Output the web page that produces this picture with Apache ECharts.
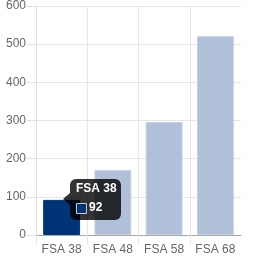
<!DOCTYPE html>
<html><head><meta charset="utf-8">
<script src="https://cdn.jsdelivr.net/npm/echarts@6/dist/echarts.min.js"></script>
<style>html,body{margin:0;padding:0;background:#fff}#c{width:263px;height:263px}</style>
</head><body><div id="c"></div>
<script>
var categories = ["FSA 38", "FSA 48", "FSA 58", "FSA 68"];
var values = [92, 170, 296, 521];
var yTicks = [0, 100, 200, 300, 400, 500, 600];
var highlightIndex = 0;

var chart = echarts.init(document.getElementById('c'), null, {renderer: 'canvas'});
var font = '"Liberation Sans", Arial, sans-serif';
chart.setOption({
  animation: false,
  grid: {left: 36, right: 22, top: 6, bottom: 28, containLabel: false},
  xAxis: {
    type: 'category', data: categories,
    axisLine: {lineStyle: {color: '#a8a8a8'}},
    axisTick: {show: true, interval: 0, length: 10, lineStyle: {color: '#e6e6e6'}},
    axisLabel: {color: '#666', fontFamily: font, fontSize: 12, margin: 9, interval: 0},
    splitLine: {show: true, interval: 0, showMaxLine: false, lineStyle: {color: '#e6e6e6'}}
  },
  yAxis: {
    type: 'value', min: yTicks[0], max: yTicks[yTicks.length - 1], interval: 100,
    axisLine: {show: true, lineStyle: {color: '#e0e0e0'}},
    axisTick: {show: true, length: 9, lineStyle: {color: '#e0e0e0'}},
    axisLabel: {color: '#666', fontFamily: font, fontSize: 12, margin: 10},
    splitLine: {show: true, lineStyle: {color: '#e6e6e6'}}
  },
  series: [{
    type: 'bar',
    barCategoryGap: '28%',
    data: values.map(function (v, i) {
      return i === highlightIndex
        ? {value: v, itemStyle: {color: '#003479', borderColor: '#003479', borderWidth: 1}}
        : {value: v, itemStyle: {color: '#b0c0d8', borderColor: '#c6d1e3', borderWidth: 1}};
    })
  }]
});

var p = chart.convertToPixel({gridIndex: 0}, [highlightIndex, values[highlightIndex]]);
var cx = Math.round(p[0]) + 1, cy = Math.round(p[1]) - 1;
var gridRect = chart.getModel().getComponent('grid', 0).coordinateSystem.getRect();
var rx = gridRect.x + gridRect.width, by = gridRect.y + gridRect.height;
chart.setOption({
  graphic: [
    {type: 'rect', z: 100, shape: {x: rx - 1, y: by + 1, width: 3, height: 10}, style: {fill: '#fff'}},
    {
    type: 'group', z: 100, children: [
      {type: 'polygon', z: 100, shape: {points: [[cx, cy], [cx + 7, cy - 6], [cx + 7, cy + 6]]}, style: {fill: 'rgba(0,0,0,0.8)'}},
      {type: 'rect', z: 100, shape: {x: cx + 7, y: cy - 20, width: 51, height: 41, r: 6}, style: {fill: 'rgba(0,0,0,0.8)'}},
      {type: 'text', z: 101, x: cx + 13, y: cy - 16, style: {text: categories[highlightIndex], fill: '#fff', font: 'bold 12px ' + font, textVerticalAlign: 'top'}},
      {type: 'rect', z: 101, shape: {x: cx + 13.5, y: cy + 4.5, width: 10, height: 10}, style: {fill: '#003479', stroke: '#ccc', lineWidth: 1}},
      {type: 'text', z: 101, x: cx + 26, y: cy + 3, style: {text: String(values[highlightIndex]), fill: '#fff', font: 'bold 12px ' + font, textVerticalAlign: 'top'}}
    ]
  }]
});
</script></body></html>
